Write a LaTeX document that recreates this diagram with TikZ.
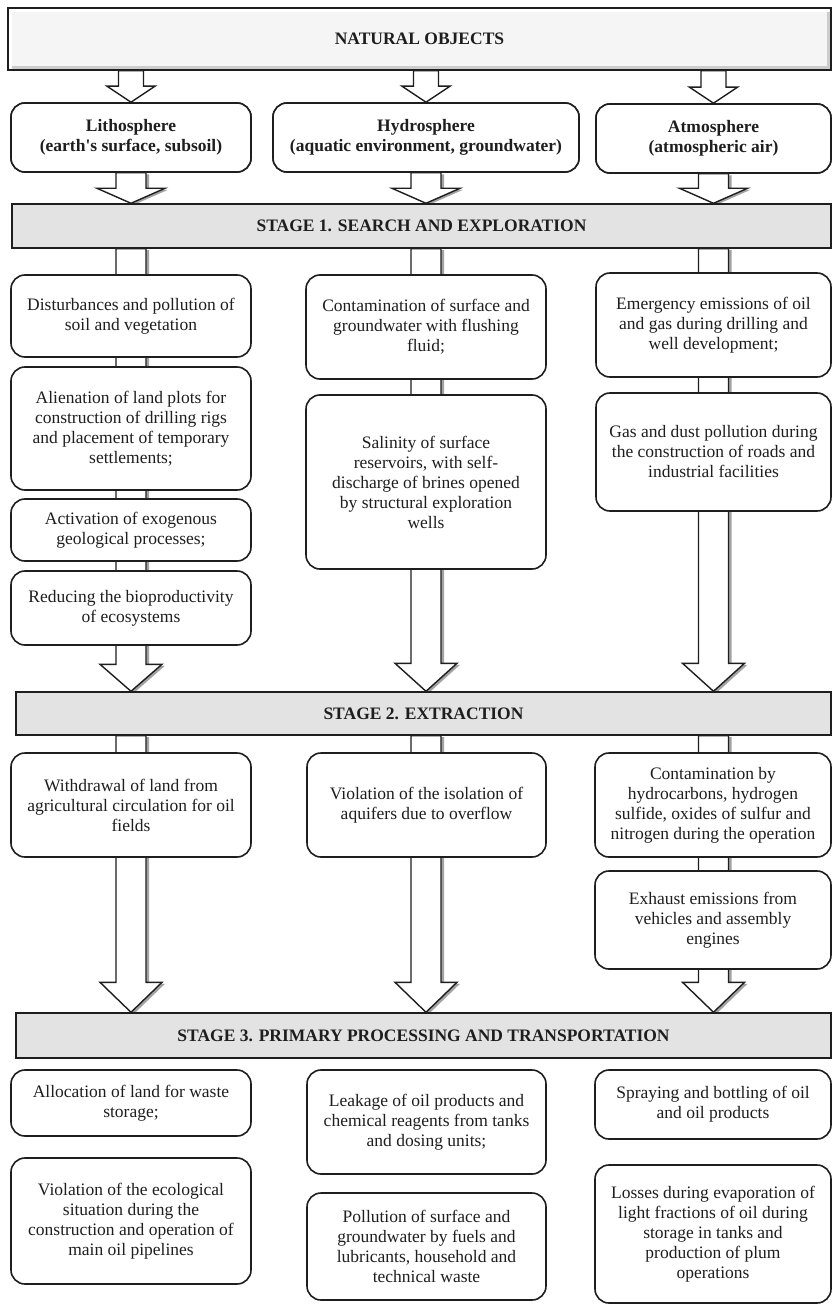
\documentclass[tikz,border=0pt]{standalone}
\usepackage{fontspec}
\setmainfont{Liberation Serif}
\usetikzlibrary{calc,shadows}
\definecolor{ink}{HTML}{1E1E1E}
\definecolor{barfill}{HTML}{E3E3E3}
\tikzset{
  txt/.style={text=ink, font=\fontsize{17.5}{20}\selectfont},
  box/.style={txt, draw=ink, line width=1.6pt, rounded corners=14pt, fill=white, align=center, inner sep=0pt},
  headbox/.style={box, font=\fontsize{17.5}{20}\selectfont\bfseries},
  barbox/.style={txt, draw=ink, line width=1.4pt, fill=barfill, inner sep=0pt, font=\fontsize{17.5}{20}\selectfont\bfseries},
  natbox/.style={txt, draw=ink, line width=1.6pt, fill=gray!8, inner sep=0pt, font=\fontsize{17.5}{20}\selectfont\bfseries},
  plainflow/.style={draw=ink, line width=1.4pt, fill=white, line join=miter},
  flow/.style={plainflow,
    drop shadow={shadow xshift=3pt, shadow yshift=-1.5pt, fill=black!60, opacity=0.6}},
}
% place a node by its corners (x1,y1) (x2,y2), y measured downwards
\newcommand\rbox[7][box]{%
  \pgfmathsetmacro\rbw{#5-#3}\pgfmathsetmacro\rbh{#6-#4}%
  \pgfmathsetmacro\rbx{(#3+#5)/2}\pgfmathsetmacro\rby{-(#4+#6)/2}%
  \node[#1, minimum width=\rbw pt, minimum height=\rbh pt] (#2) at (\rbx pt,\rby pt) {#7};}
% block arrow: #1 style, #2 start, #3 tip, #4 shaft half width, #5 head half width, #6 head length
\newcommand\flowarrow[6]{%
  \path[#1] let \p1=(#2), \p2=(#3) in
   (\x1-#4pt,\y1) -- (\x1-#4pt,\y2+#6pt) -- (\x1-#5pt,\y2+#6pt) -- (\x1,\y2)
   -- (\x1+#5pt,\y2+#6pt) -- (\x1+#4pt,\y2+#6pt) -- (\x1+#4pt,\y1) -- cycle;}
\begin{document}
\begin{tikzpicture}[x=1pt,y=1pt]
\useasboundingbox[fill=white] (0,0) rectangle (833,-1305);

% ---------- nodes placed first so arrows can refer to them ----------
\rbox[natbox]{NAT}{8}{8}{831}{70}{NATURAL OBJECTS}
\rbox[headbox]{LITH}{11}{103}{251}{172}{Lithosphere\\(earth\textquotesingle s surface, subsoil)}
\rbox[headbox]{HYD}{273}{103}{579}{172}{Hydrosphere\\(aquatic environment, groundwater)}
\rbox[headbox]{ATM}{596}{104}{831}{173}{Atmosphere\\(atmospheric air)}
\rbox[barbox]{BAR1}{12}{204}{831}{248}{STAGE 1. SEARCH AND EXPLORATION}
\rbox[barbox]{BAR2}{16}{692}{831}{735}{STAGE 2. EXTRACTION}
\rbox[barbox]{BAR3}{16}{1013}{831}{1058}{STAGE 3. PRIMARY PROCESSING AND TRANSPORTATION}

% ---------- arrows ----------
\flowarrow{plainflow}{NAT.south -| LITH.north}{LITH.north}{12.5}{24}{16}
\flowarrow{plainflow}{NAT.south -| HYD.north}{HYD.north}{12.5}{24}{16}
\flowarrow{plainflow}{NAT.south -| ATM.north}{ATM.north}{12.5}{24}{16}

\flowarrow{flow}{LITH.south}{LITH.south |- BAR1.north}{15}{34}{15}
\flowarrow{flow}{HYD.south}{HYD.south |- BAR1.north}{15}{34}{15}
\flowarrow{flow}{ATM.south}{ATM.south |- BAR1.north}{15}{34}{15}

\flowarrow{flow}{LITH.south |- BAR1.south}{LITH.south |- BAR2.north}{15}{31}{27}
\flowarrow{flow}{HYD.south |- BAR1.south}{HYD.south |- BAR2.north}{15}{31}{28}
\flowarrow{flow}{ATM.south |- BAR1.south}{ATM.south |- BAR2.north}{15}{31}{28}

\flowarrow{flow}{LITH.south |- BAR2.south}{LITH.south |- BAR3.north}{15}{31}{30}
\flowarrow{flow}{HYD.south |- BAR2.south}{HYD.south |- BAR3.north}{15}{31}{30}
\flowarrow{flow}{ATM.south |- BAR2.south}{ATM.south |- BAR3.north}{15}{31}{30}

% ---------- redraw header boxes on top of arrows ----------
\rbox[natbox]{NAT}{8}{8}{831}{70}{NATURAL OBJECTS}
\draw[white, line width=3pt] ($(NAT.south west)+(3,3)$) -- ($(NAT.north west)+(3,-3)$) -- ($(NAT.north east)+(-3,-3)$);
\draw[gray!40, line width=3pt] ($(NAT.north east)+(-3,-4.5)$) -- ($(NAT.south east)+(-3,3)$) -- ($(NAT.south west)+(4.5,3)$);
\rbox[headbox]{LITH}{11}{103}{251}{172}{Lithosphere\\(earth\textquotesingle s surface, subsoil)}
\rbox[headbox]{HYD}{273}{103}{579}{172}{Hydrosphere\\(aquatic environment, groundwater)}
\rbox[headbox]{ATM}{596}{104}{831}{173}{Atmosphere\\(atmospheric air)}
\rbox[barbox]{BAR1}{12}{204}{831}{248}{STAGE 1. SEARCH AND EXPLORATION}
\rbox[barbox]{BAR2}{16}{692}{831}{735}{STAGE 2. EXTRACTION}
\rbox[barbox]{BAR3}{16}{1013}{831}{1058}{STAGE 3. PRIMARY PROCESSING AND TRANSPORTATION}

% ---------- stage 1 ----------
\rbox{L1}{11}{275}{251}{357}{Disturbances and pollution of\\soil and vegetation}
\rbox{L2}{11}{367}{251}{490}{Alienation of land plots for\\construction of drilling rigs\\and placement of temporary\\settlements;}
\rbox{L3}{11}{499}{251}{561}{Activation of exogenous\\geological processes;}
\rbox{L4}{11}{571}{251}{645}{Reducing the bioproductivity\\of ecosystems}
\rbox{M1}{306}{275}{546}{379}{Contamination of surface and\\groundwater with flushing\\fluid;}
\rbox{M2}{306}{395}{546}{569}{Salinity of surface\\reservoirs, with self-\\discharge of brines opened\\by structural exploration\\wells}
\rbox{R1}{596}{273}{831}{377}{Emergency emissions of oil\\and gas during drilling and\\well development;}
\rbox{R2}{596}{393}{831}{511}{Gas and dust pollution during\\the construction of roads and\\industrial facilities}

% ---------- stage 2 ----------
\rbox{S2L}{11}{753}{251}{857}{Withdrawal of land from\\agricultural circulation for oil\\fields}
\rbox{S2M}{307}{753}{546}{857}{Violation of the isolation of\\aquifers due to overflow}
\rbox{S2RA}{595}{753}{831}{857}{Contamination by\\hydrocarbons, hydrogen\\sulfide, oxides of sulfur and\\nitrogen during the operation}
\rbox{S2RB}{595}{871}{831}{969}{Exhaust emissions from\\vehicles and assembly\\engines}

% ---------- stage 3 ----------
\rbox{B1}{11}{1070}{251}{1136}{Allocation of land for waste\\storage;}
\rbox{B2}{11}{1158}{251}{1284}{Violation of the ecological\\situation during the\\construction and operation of\\main oil pipelines}
\rbox{C1}{307}{1070}{546}{1174}{Leakage of oil products and\\chemical reagents from tanks\\and dosing units;}
\rbox{C2}{307}{1193}{546}{1300}{Pollution of surface and\\groundwater by fuels and\\lubricants, household and\\technical waste}
\rbox{D1}{595}{1070}{831}{1139}{Spraying and bottling of oil\\and oil products}
\rbox{D2}{595}{1165}{831}{1303}{Losses during evaporation of\\light fractions of oil during\\storage in tanks and\\production of plum\\operations}
\end{tikzpicture}
\end{document}
